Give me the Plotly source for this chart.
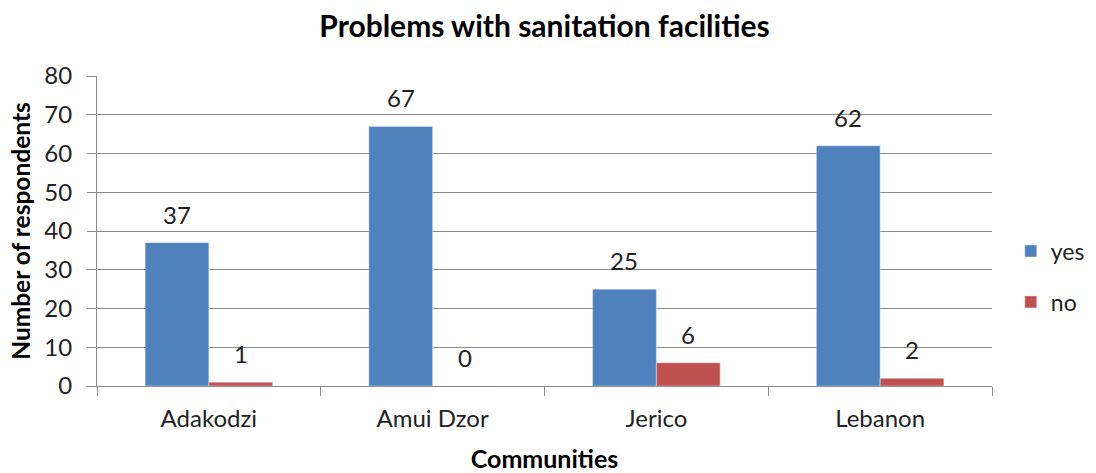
import plotly.graph_objects as go

communities = ["Adakodzi", "Amui Dzor", "Jerico", "Lebanon"]
yes_counts = [37, 67, 25, 62]
no_counts = [1, 0, 6, 2]
y_ticks = [0, 10, 20, 30, 40, 50, 60, 70, 80]

BLUE = "#4F81BD"
RED = "#C0504D"
FONT = "Lato, Open Sans, sans-serif"
TEXT = "#222222"
GRID = "#8C8C8C"

fig = go.Figure()
fig.add_trace(go.Bar(name="yes", x=communities, y=yes_counts, marker_color=BLUE,
                     legendgroup="yes"))
fig.add_trace(go.Bar(name="no", x=communities, y=no_counts, marker_color=RED,
                     legendgroup="no"))

# value labels above each bar
offset = 0.143
for i, (yv, nv) in enumerate(zip(yes_counts, no_counts)):
    for val, dx in ((yv, -offset), (nv, offset)):
        fig.add_annotation(x=i + dx, y=val, text=str(val), showarrow=False,
                           yanchor="bottom", yshift=12,
                           font=dict(family=FONT, size=24, color=TEXT))

fig.update_layout(
    width=1096, height=473,
    margin=dict(l=97, r=104, t=76, b=87, autoexpand=False),
    paper_bgcolor="white", plot_bgcolor="white",
    barmode="group", bargap=0.43, bargroupgap=0,
    title=dict(text="<b>Problems with sanitation facilities</b>", x=0.5, xref="paper",
               y=0.945, yanchor="middle",
               font=dict(family=FONT, size=30, color="black")),
    font=dict(family=FONT, color=TEXT),
    legend=dict(x=1.021, y=0.353, xanchor="left", yanchor="middle",
                font=dict(family=FONT, size=23, color=TEXT),
                itemwidth=30,
                tracegroupgap=18, bgcolor="rgba(0,0,0,0)"),
    xaxis=dict(
        title=dict(text="<b>Communities</b>", font=dict(family=FONT, size=25, color="black"),
                   standoff=21),
        tickfont=dict(family=FONT, size=24, color=TEXT),
        showline=True, linecolor=GRID, linewidth=1,
        ticks="outside", tickson="boundaries", ticklen=9, tickcolor=GRID,
        ticklabelstandoff=11,
        showgrid=False,
    ),
    yaxis=dict(
        title=dict(text="<b>Number of respondents</b>", font=dict(family=FONT, size=24.5, color="black"),
                   standoff=6),
        tickfont=dict(family=FONT, size=24, color=TEXT),
        range=[0, 80], tickvals=y_ticks,
        showline=True, linecolor=GRID, linewidth=1,
        ticks="outside", ticklen=9, tickcolor=GRID,
        ticklabelstandoff=10,
        showgrid=True, gridcolor=GRID, gridwidth=1,
        zeroline=False,
    ),
)

fig.write_html("out.html")
